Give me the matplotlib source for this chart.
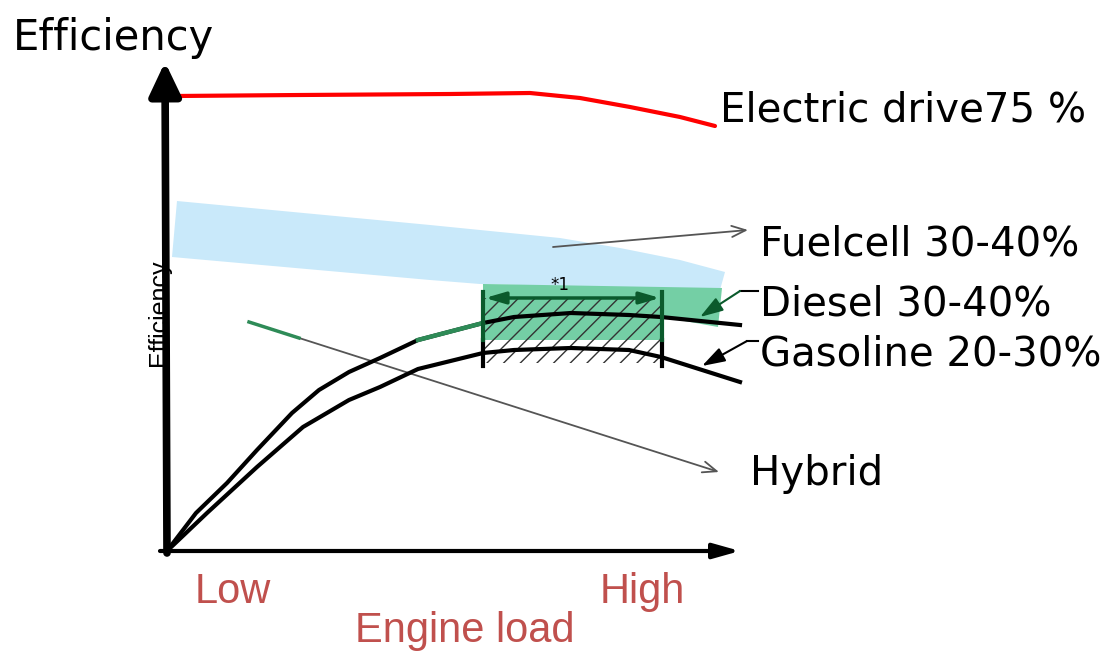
"""Efficiency vs engine load schematic."""
import matplotlib
matplotlib.use("Agg")
import matplotlib.pyplot as plt

# values (origin of the sketch axes = 0, 0)
elec_x = [8, 133, 283, 363, 413, 463, 513, 548]
elec_y = [455, 456, 457, 458, 453, 444, 434, 425]

fuel_top_x = [10, 263, 393, 453, 513, 558]
fuel_top_y = [350, 326, 313, 303, 291, 279]
fuel_bot_x = [553, 313, 263, 5]
fuel_bot_y = [261, 267, 271, 294]

diesel_band_x = [316, 555, 551, 523, 496, 496, 316]
diesel_band_y = [267, 263, 224, 229, 234, 211, 211]

diesel_x = [0, 29, 60, 90, 125, 152, 182, 213, 251, 316, 347, 404, 462, 494, 573]
diesel_y = [0, 38, 68, 101, 138, 161, 179, 193, 211, 228, 234, 238, 236, 234, 226]
diesel_green_x = [251, 316]
diesel_green_y = [211, 228]

gas_x = [0, 40, 90, 136, 182, 213, 251, 316, 347, 404, 462, 494, 573]
gas_y = [0, 38, 84, 124, 151, 164, 182, 198, 201, 203, 201, 194, 169]

box_x = [316, 495]
box_top, box_mid, box_bot = 253, 211, 188
box_post_top, box_post_bot = 259, 185

hybrid_x = [82, 132, 552]
hybrid_y = [229, 213, 79]
fuel_arrow = [(386, 304), (581, 321)]
diesel_lead = [(591, 260), (573, 260), (533, 234)]
gas_lead = [(591, 210), (580, 210), (535, 185)]

labels = ["Electric drive75 %", "Fuelcell 30-40%", "Diesel 30-40%",
          "Gasoline 20-30%", "Hybrid"]
label_x = [553, 593, 593, 593, 583]
label_y = [429, 296, 236, 186, 66]

RED = "#c0504d"
DKGREEN = "#0b5a2c"
GREEN = "#2e8b57"

fig = plt.figure(figsize=(11.01, 6.53), dpi=100)
ax = fig.add_axes([0, 0, 1, 1])
ax.set_xlim(-167, 934)
ax.set_ylim(-102, 551)
ax.axis("off")
plt.rcParams["hatch.linewidth"] = 1.0

# bands
ax.fill(fuel_top_x + fuel_bot_x, fuel_top_y + fuel_bot_y, color="#c9e9fa", lw=0, zorder=1)
ax.fill(diesel_band_x, diesel_band_y, color="#74cfa5", lw=0, zorder=2)
ax.fill_between(box_x, [box_bot] * 2, [box_top] * 2, facecolor="none",
                edgecolor="#333333", hatch="//", lw=0, zorder=3)

# curves
ax.plot(elec_x, elec_y, color="red", lw=3, solid_capstyle="round", zorder=4)
ax.plot(diesel_x, diesel_y, color="black", lw=3, solid_joinstyle="round", zorder=5)
ax.plot(diesel_green_x, diesel_green_y, color=GREEN, lw=3.2, zorder=6)
ax.plot(gas_x, gas_y, color="black", lw=3, solid_joinstyle="round", zorder=5)

# sweet-spot box
for bx in box_x:
    ax.plot([bx, bx], [box_post_bot, box_mid], color="black", lw=3, zorder=6)
    ax.plot([bx, bx], [box_mid, box_post_top], color=DKGREEN, lw=3, zorder=6)
ax.annotate("", xy=(box_x[0] + 2, box_top), xytext=(box_x[1] - 2, box_top),
            arrowprops=dict(arrowstyle="<|-|>,head_length=1.2,head_width=0.35",
                            mutation_scale=10, color=DKGREEN, lw=2.5,
                            shrinkA=0, shrinkB=0), zorder=7)
ax.text(393, 266, "*1", fontsize=12, ha="center", va="center", zorder=7)

# hybrid / fuelcell pointers
ax.annotate("", xy=(hybrid_x[2], hybrid_y[2]), xytext=(hybrid_x[0], hybrid_y[0]),
            arrowprops=dict(arrowstyle="->,head_length=1.0,head_width=0.4",
                            mutation_scale=10, color="#555555", lw=1.3,
                            shrinkA=0, shrinkB=0), zorder=4)
ax.plot(hybrid_x[:2], hybrid_y[:2], color=GREEN, lw=2.5, zorder=4)
ax.annotate("", xy=fuel_arrow[1], xytext=fuel_arrow[0],
            arrowprops=dict(arrowstyle="->,head_length=1.0,head_width=0.4",
                            mutation_scale=10, color="#555555", lw=1.3,
                            shrinkA=0, shrinkB=0), zorder=4)

# label leaders
for lead, col in [(diesel_lead, DKGREEN), (gas_lead, "black")]:
    ax.plot([lead[0][0], lead[1][0]], [lead[0][1], lead[1][1]], color="black", lw=1.5, zorder=6)
    ax.annotate("", xy=lead[2], xytext=lead[1],
                arrowprops=dict(arrowstyle="-|>,head_length=1.4,head_width=0.45",
                                mutation_scale=10, color=col, lw=1.5,
                                shrinkA=0, shrinkB=0), zorder=6)

# axes arrows
ax.text(-8, 238, "Efficiency", rotation=90, fontsize=18, family="Liberation Sans",
        ha="center", va="center", zorder=3)
ax.annotate("", xy=(-2, 489), xytext=(0, -2),
            arrowprops=dict(arrowstyle="-|>,head_length=2.0,head_width=0.95",
                            mutation_scale=10, color="black", lw=5.5,
                            shrinkA=0, shrinkB=0), zorder=8)
ax.annotate("", xy=(573, 0), xytext=(-7, 0),
            arrowprops=dict(arrowstyle="-|>,head_length=1.6,head_width=0.45",
                            mutation_scale=10, color="black", lw=3,
                            shrinkA=0, shrinkB=0), zorder=8)

# texts
ax.text(-154, 501, "Efficiency", fontsize=30, ha="left", va="baseline")
for t, tx, ty in zip(labels, label_x, label_y):
    ax.text(tx, ty, t, fontsize=29, ha="left", va="baseline")
ax.text(28, -52, "Low", fontsize=30, color=RED, family="Liberation Sans", va="baseline")
ax.text(433, -52, "High", fontsize=30, color=RED, family="Liberation Sans", va="baseline")
ax.text(298, -91, "Engine load", fontsize=30, color=RED, family="Liberation Sans",
        ha="center", va="baseline")

fig.savefig("out.png", dpi=100)
